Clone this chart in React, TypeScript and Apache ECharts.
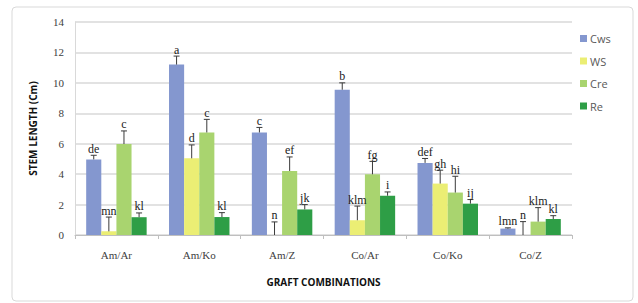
import React, { useEffect, useRef } from "react";
import * as echarts from "echarts";

const categories = ["Am/Ar", "Am/Ko", "Am/Z", "Co/Ar", "Co/Ko", "Co/Z"];
const seriesNames = ["Cws", "WS", "Cre", "Re"];
const colors = ["#8497CF", "#EBEE74", "#A9D46F", "#2E9E46"];

const cwsValues = [4.97, 11.2, 6.74, 9.55, 4.74, 0.42];
const wsValues = [0.24, 5.04, 0, 0.97, 3.38, 0];
const creValues = [5.98, 6.74, 4.21, 3.99, 2.79, 0.88];
const reValues = [1.17, 1.18, 1.68, 2.58, 2.06, 1.05];

const cwsErrTop = [5.24, 11.76, 7.07, 10.0, 5.03, 0.47];
const wsErrTop = [1.18, 5.92, 0.86, 1.9, 4.26, 0.88];
const creErrTop = [6.84, 7.6, 5.13, 4.84, 3.86, 1.8];
const reErrTop = [1.45, 1.47, 2.0, 2.83, 2.33, 1.27];

const cwsLetters = ["de", "a", "c", "b", "def", "lmn"];
const wsLetters = ["mn", "d", "n", "klm", "gh", "n"];
const creLetters = ["c", "c", "ef", "fg", "hi", "klm"];
const reLetters = ["kl", "kl", "jk", "i", "ij", "kl"];

const yTicks = [0, 2, 4, 6, 8, 10, 12, 14];

const values = [cwsValues, wsValues, creValues, reValues];
const errTops = [cwsErrTop, wsErrTop, creErrTop, reErrTop];
const letters = [cwsLetters, wsLetters, creLetters, reLetters];

const GAP = 0.27;
const SERIF = "'Liberation Serif', 'DejaVu Serif', serif";
const SANS = "'Open Sans', 'Liberation Sans', sans-serif";

export default function App() {
  const ref = useRef<HTMLDivElement>(null);
  useEffect(() => {
    document.body.style.margin = "0";
    const chart = echarts.init(ref.current!, null, { renderer: "svg" });
    const barSeries = seriesNames.map((name, i) => ({
      name,
      type: "bar",
      data: values[i],
      barGap: "0%",
      barCategoryGap: GAP * 100 + "%",
      itemStyle: { color: colors[i] },
      z: 2,
    }));
    const errSeries = seriesNames.map((name, i) => ({
      name: name + "_err",
      type: "custom",
      data: categories.map((_, j) => [j, values[i][j], errTops[i][j]]),
      z: 5,
      silent: true,
      renderItem: (params: any, api: any) => {
        const cat = api.value(0);
        const v = api.value(1);
        const top = api.value(2);
        const base = api.coord([cat, v]);
        const tp = api.coord([cat, top]);
        const band = api.size([1, 0])[0];
        const bw = (band * (1 - GAP)) / 4;
        const x = base[0] + (i - 1.5) * bw;
        return {
          type: "group",
          children: [
            { type: "line", shape: { x1: x, y1: base[1], x2: x, y2: tp[1] }, style: { stroke: "#3a3a3a", lineWidth: 1 } },
            { type: "line", shape: { x1: x - 3, y1: tp[1], x2: x + 3, y2: tp[1] }, style: { stroke: "#3a3a3a", lineWidth: 1 } },
            {
              type: "text",
              x,
              y: tp[1] - 0.5,
              style: {
                text: letters[i][params.dataIndex],
                align: "center",
                verticalAlign: "bottom",
                font: "12px " + SERIF,
                fill: "#222",
              },
            },
          ],
        };
      },
    }));
    chart.setOption({
      animation: false,
      backgroundColor: "#fff",
      graphic: [
        {
          type: "rect",
          shape: { x: 12, y: 7, width: 621, height: 294, r: 4 },
          style: { fill: "none", stroke: "#d9d9d9", lineWidth: 1 },
          silent: true,
        },
      ],
      legend: {
        orient: "vertical",
        left: 575,
        top: 28,
        itemWidth: 7,
        itemHeight: 7,
        itemGap: 11.5,
        icon: "rect",
        data: seriesNames,
        textStyle: { fontFamily: SANS, fontSize: 11, color: "#595959", padding: [0, 0, 0, -2] },
      },
      grid: { left: 75, right: 66, top: 22, bottom: 68 },
      xAxis: {
        type: "category",
        data: categories,
        axisLine: { lineStyle: { color: "#bfbfbf" } },
        axisTick: { show: true, length: 4, lineStyle: { color: "#bfbfbf" } },
        axisLabel: { fontFamily: SERIF, fontSize: 11, color: "#404040", margin: 14 },
        name: "GRAFT COMBINATIONS",
        nameLocation: "middle",
        nameGap: 42,
        nameTextStyle: { fontFamily: SANS, fontSize: 10, fontWeight: "bold", color: "#111" },
      },
      yAxis: {
        type: "value",
        min: yTicks[0],
        max: yTicks[yTicks.length - 1],
        interval: 2,
        axisLine: { show: true, lineStyle: { color: "#d9d9d9" } },
        splitLine: { lineStyle: { color: "#d9d9d9", width: 1.5 } },
        axisLabel: { fontFamily: SERIF, fontSize: 11, color: "#404040", margin: 11 },
        name: "STEM LENGTH (Cm)",
        nameLocation: "middle",
        nameRotate: 90,
        nameGap: 37,
        nameTextStyle: { fontFamily: SANS, fontSize: 10, fontWeight: "bold", color: "#111" },
      },
      series: [...barSeries, ...errSeries],
    });
    return () => chart.dispose();
  }, []);
  return <div ref={ref} style={{ width: 638, height: 303 }} />;
}
